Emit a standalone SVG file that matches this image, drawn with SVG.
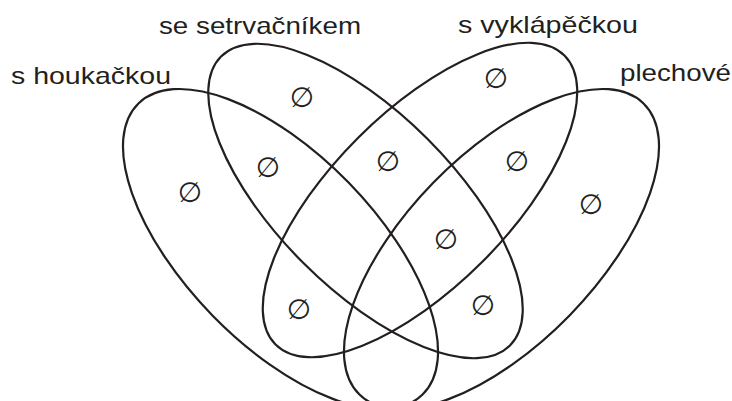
<svg xmlns="http://www.w3.org/2000/svg" width="732" height="401" viewBox="0 0 732 401">
  <style>
    .set { fill: none; stroke: #231f20; stroke-width: 2.2; }
    .label { font-family: "Liberation Sans", Arial, sans-serif; font-size: 24px; fill: #231f20; }
    .empty { font-family: "DejaVu Sans", sans-serif; font-size: 28px; fill: #231f20; text-anchor: middle; }
  </style>
  <rect width="732" height="401" fill="#ffffff"/>
  <g id="set-houkackou">
    <ellipse class="set" cx="0" cy="0" rx="203.4" ry="95.1" transform="translate(280.5,249) rotate(45.7)"/>
    <text class="label" x="11" y="84" textLength="160" lengthAdjust="spacingAndGlyphs">s houkačkou</text>
  </g>
  <g id="set-setrvacnikem">
    <ellipse class="set" cx="0" cy="0" rx="204.3" ry="87.8" transform="translate(365.5,201) rotate(45)"/>
    <text class="label" x="159" y="34" textLength="202" lengthAdjust="spacingAndGlyphs">se setrvačníkem</text>
  </g>
  <g id="set-vyklapeckou">
    <ellipse class="set" cx="0" cy="0" rx="204.3" ry="87.8" transform="translate(420,200) rotate(-45)"/>
    <text class="label" x="458" y="33" textLength="180" lengthAdjust="spacingAndGlyphs">s vyklápěčkou</text>
  </g>
  <g id="set-plechove">
    <ellipse class="set" cx="0" cy="0" rx="203.4" ry="95.1" transform="translate(501.5,249) rotate(-45.7)"/>
    <text class="label" x="620" y="81" textLength="111" lengthAdjust="spacingAndGlyphs">plechové</text>
  </g>
  <g id="regions">
    <text class="empty" x="302" y="107">∅</text>
    <text class="empty" x="496" y="88">∅</text>
    <text class="empty" x="190" y="202">∅</text>
    <text class="empty" x="268" y="177">∅</text>
    <text class="empty" x="388" y="171">∅</text>
    <text class="empty" x="517" y="171">∅</text>
    <text class="empty" x="591" y="214">∅</text>
    <text class="empty" x="446" y="249">∅</text>
    <text class="empty" x="299" y="319">∅</text>
    <text class="empty" x="483" y="315">∅</text>
  </g>
  <g id="connectors"></g>
</svg>
